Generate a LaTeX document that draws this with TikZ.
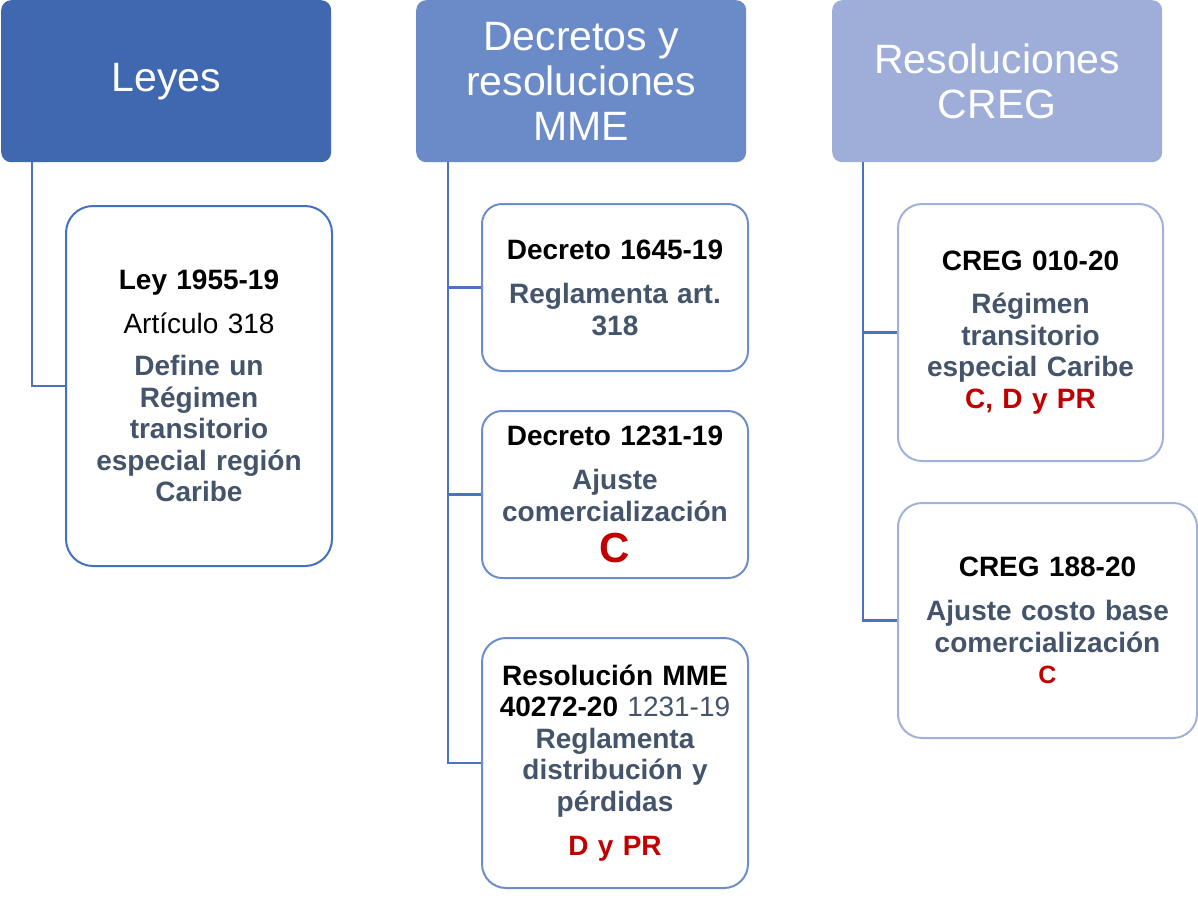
\documentclass[tikz,border=0pt]{standalone}
\usepackage{fontspec}
\setmainfont{Liberation Sans}
\definecolor{hA}{HTML}{3F68B1}
\definecolor{hB}{HTML}{6A8AC8}
\definecolor{hC}{HTML}{9EAED9}
\definecolor{bA}{HTML}{4470C0}
\definecolor{bB}{HTML}{6E8ECB}
\definecolor{bC}{HTML}{A1B1DB}
\definecolor{lineblue}{HTML}{4A74C2}
\definecolor{txtgray}{HTML}{44546A}
\definecolor{txtred}{HTML}{C00000}
\begin{document}
\begin{tikzpicture}[x=1pt,y=-1pt,
  hdr/.style={rounded corners=10pt, minimum width=330pt, minimum height=162pt,
    inner sep=0pt, text=white, font=\fontsize{41}{45}\selectfont, align=center, anchor=north west},
  child/.style={draw, line width=2pt, fill=white, rounded corners=20pt, inner sep=0pt,
    anchor=north west, align=center, text=txtgray,
    font=\fontsize{28}{31.5}\selectfont\bfseries},
  conn/.style={draw=lineblue, line width=2.5pt}
]
\useasboundingbox (0,0) rectangle (1198,900);

% headers
\node[hdr, fill=hA] (h1) at (1,0) {Leyes};
\node[hdr, fill=hB] (h2) at (416,0) {Decretos y\\resoluciones\\MME};
\node[hdr, fill=hC] (h3) at (832,0) {Resoluciones\\CREG};

% column 1
\node[child, draw=bA, minimum width=266pt, minimum height=360pt, text width=256pt,
  rounded corners=27pt] (ley) at (65,205)
  {\textcolor{black}{Ley 1955-19}\\[12pt]
   \textcolor{black}{\mdseries Artículo 318}\\[11pt]
   Define un\\Régimen\\transitorio\\especial región\\Caribe};

% column 2
\node[child, draw=bB, minimum width=266pt, minimum height=167pt, text width=256pt] (d1) at (481,203)
  {\textcolor{black}{Decreto 1645-19}\\[13pt]
   Reglamenta art.\\318};
\node[child, draw=bB, minimum width=266pt, minimum height=167pt, text width=256pt] (d2) at (481,410)
  {\textcolor{black}{Decreto 1231-19}\\[13pt]
   Ajuste\\comercialización\\[10pt]
   {\fontsize{42}{45}\selectfont\textcolor{txtred}{C}}};
\node[child, draw=bB, minimum width=266pt, minimum height=250pt, text width=256pt,
  rounded corners=24pt] (d3) at (481,637)
  {\textcolor{black}{Resolución MME}\\
   \textcolor{black}{40272-20} {\mdseries 1231-19}\\
   Reglamenta\\distribución y\\pérdidas\\[13pt]
   \textcolor{txtred}{D y PR}};

% column 3
\node[child, draw=bC, minimum width=265pt, minimum height=257pt, text width=255pt,
  rounded corners=24pt] (c1) at (897,203)
  {\textcolor{black}{CREG 010-20}\\[12pt]
   Régimen\\transitorio\\especial Caribe\\
   \textcolor{txtred}{C, D y PR}};
\node[child, draw=bC, minimum width=299pt, minimum height=235pt, text width=289pt,
  rounded corners=24pt] (c2) at (897,502)
  {\textcolor{black}{CREG 188-20}\\[13pt]
   Ajuste costo base\\comercialización\\
   {\fontsize{25}{31.5}\selectfont\textcolor{txtred}{C}}};

% connectors
\draw[conn] ([xshift=31pt]h1.south west) |- (ley.west);
\draw[conn] ([xshift=32pt]h2.south west) |- (d1.west);
\draw[conn] ([xshift=32pt]h2.south west) |- (d2.west);
\draw[conn] ([xshift=32pt]h2.south west) |- (d3.west);
\draw[conn] ([xshift=31pt]h3.south west) |- (c1.west);
\draw[conn] ([xshift=31pt]h3.south west) |- (c2.west);
\end{tikzpicture}
\end{document}
